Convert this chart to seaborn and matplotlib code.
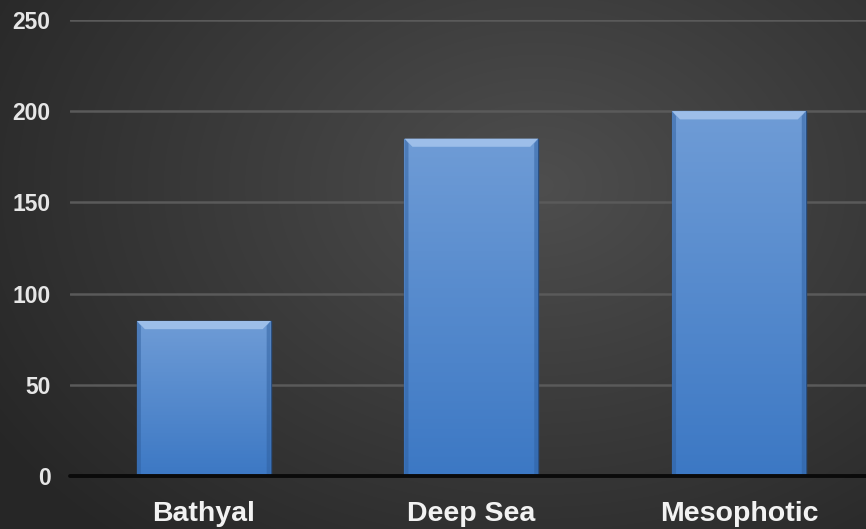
import numpy as np
import pandas as pd
import matplotlib
matplotlib.use("Agg")
import matplotlib.pyplot as plt
import seaborn as sns
from matplotlib.patches import Polygon

categories = ["Bathyal", "Deep Sea", "Mesophotic"]
values = [85, 185, 200]
yticks = [0, 50, 100, 150, 200, 250]

sns.set_theme(style="dark")
plt.rcParams['font.family'] = ['Liberation Sans', 'DejaVu Sans']

W, H, DPI = 866, 529, 100
fig = plt.figure(figsize=(W / DPI, H / DPI), dpi=DPI)

# radial gradient background
bg = fig.add_axes([0, 0, 1, 1], zorder=0)
yy, xx = np.mgrid[0:H, 0:W]
cx, cy = 0.62 * W, 0.35 * H
r = np.sqrt(((xx - cx) / (W * 0.75)) ** 2 + ((yy - cy) / (H * 0.9)) ** 2)
r = np.clip(r, 0, 1)
inner = np.array([0x4e, 0x4e, 0x4e]) / 255
outer = np.array([0x26, 0x26, 0x26]) / 255
img = inner[None, None, :] * (1 - r[..., None]) + outer[None, None, :] * r[..., None]
bg.imshow(img, aspect="auto", extent=[0, 1, 0, 1], origin="upper")
bg.set_axis_off()

ax = fig.add_axes([70 / W, 1 - 476 / H, 1 - 70 / W, (476 - 20) / H], zorder=1)
ax.patch.set_alpha(0)

df = pd.DataFrame({"zone": categories, "count": values})
sns.barplot(data=df, x="zone", y="count", ax=ax, width=0.5, color="#4f86c6",
            saturation=1, zorder=3)

ax.set_xlim(-0.5, 2.475)
ax.set_ylim(0, 250)
ax.set_yticks(yticks)
ax.set_ylabel("")
ax.set_xlabel("")
ax.grid(False)
for v in yticks[1:]:
    ax.axhline(v, color="#5a5a5a", lw=1.8, zorder=1)
ax.axhline(0, color="#0a0a0a", lw=2.8, zorder=5, clip_on=False)

for s in ax.spines.values():
    s.set_visible(False)
ax.tick_params(axis="y", length=0, pad=14, labelsize=16.5, labelcolor="#e6e6e6")
ax.tick_params(axis="x", length=0, pad=18, labelsize=20.5, labelcolor="#f2f2f2")
for lab in ax.get_yticklabels() + ax.get_xticklabels():
    lab.set_fontweight("bold")

# gradient fill + bevel on bars
grad = np.linspace(0, 1, 256)[:, None]
top_c = np.array([0x6f, 0x9c, 0xd6]) / 255
bot_c = np.array([0x3c, 0x78, 0xc4]) / 255
gimg = top_c[None, None, :] * (1 - grad[..., None]) + bot_c[None, None, :] * grad[..., None]
gimg = np.repeat(gimg, 2, axis=1)
for p in list(ax.patches):
    x0, y0 = p.get_x(), p.get_y()
    w, h = p.get_width(), p.get_height()
    p.set_facecolor("#4f86c6")
    p.set_edgecolor("#2a4f80")
    p.set_linewidth(1.0)
    im = ax.imshow(gimg, extent=[x0, x0 + w, y0, y0 + h], aspect="auto",
                   origin="upper", zorder=3.5, interpolation="bilinear")
    im.set_clip_path(p)
    bev_h = 4.5
    bev_w = w * 0.06
    top = Polygon([[x0, y0 + h], [x0 + w, y0 + h],
                   [x0 + w - bev_w, y0 + h - bev_h], [x0 + bev_w, y0 + h - bev_h]],
                  closed=True, facecolor="#a9c8ef", edgecolor="none", zorder=4, alpha=0.8)
    ax.add_patch(top)
    left = Polygon([[x0, y0 + h], [x0 + bev_w * 0.5, y0 + h - bev_h * 0.6],
                    [x0 + bev_w * 0.5, y0], [x0, y0]],
                   closed=True, facecolor="#2f5f9e", edgecolor="none", zorder=4, alpha=0.5)
    ax.add_patch(left)
    right = Polygon([[x0 + w, y0 + h], [x0 + w - bev_w * 0.5, y0 + h - bev_h * 0.6],
                     [x0 + w - bev_w * 0.5, y0], [x0 + w, y0]],
                    closed=True, facecolor="#2f5f9e", edgecolor="none", zorder=4, alpha=0.5)
    ax.add_patch(right)

fig.savefig("out.png", dpi=DPI)
